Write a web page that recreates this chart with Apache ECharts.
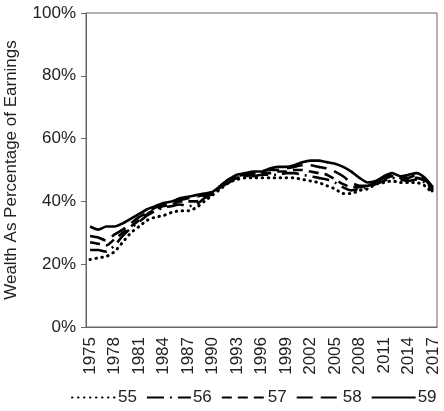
<!DOCTYPE html>
<html>
<head>
<meta charset="utf-8">
<script src="https://cdn.jsdelivr.net/npm/echarts@6/dist/echarts.min.js"></script>
<style>
  html, body { margin: 0; padding: 0; background: #fff; }
  #chart { width: 444px; height: 411px; }
</style>
</head>
<body>
<div id="chart"></div>
<script>
// Wealth as a share of earnings by age cohort, 1975-2017
const years = [];
for (let y = 1975; y <= 2017; y++) years.push(String(y));

const seriesNames = ['55', '56', '57', '58', '59'];

const age55 = [21.5, 22, 22.5, 24, 27, 30, 32, 34, 35, 35.5, 36.5, 37, 37, 38, 40, 42, 44, 46, 47, 47.5,
  47.5, 47.5, 47.5, 47.5, 47.5, 47.5, 47, 46.5, 46, 45, 44, 42.5, 42.5, 43.5, 44, 45.5, 46, 46.5, 46, 46,
  46, 45, 42.5];
const age56 = [24.5, 24.5, 24, 26, 29, 31.5, 33.5, 35.5, 37, 38, 38.5, 39, 38.5, 39, 41, 42.5, 44.5, 46, 47.5, 48,
  48, 48.5, 48.5, 48.5, 49, 49, 48.5, 48, 47.5, 47, 46, 44.5, 43.5, 44, 44.5, 45.5, 46.5, 47.5, 47, 46.5,
  47, 46, 43];
const age57 = [27, 26.5, 26, 28, 30, 32, 34, 36, 37.5, 38.5, 39, 40, 40, 40, 41.5, 42.5, 44.5, 46.5, 47.5, 48,
  48.5, 49, 49, 49.5, 49.5, 50, 50, 49.5, 49, 48.5, 47, 45.5, 44.5, 44.5, 45, 46, 47, 48, 47.5, 47,
  47.5, 46.5, 43.5];
const age58 = [29, 28.5, 27.5, 29.5, 31, 33, 35, 36.5, 38, 39, 39.5, 40.5, 41, 41.5, 42, 43, 45, 47, 48, 48.5,
  49, 49.5, 50, 50, 50.5, 51, 51.5, 51.5, 51, 50.5, 49.5, 48, 46, 45, 45, 46, 47.5, 48.5, 48, 47.5,
  48.5, 47, 44];
const age59 = [32, 31, 32, 32, 33, 34.5, 36, 37.5, 38.5, 39.5, 40, 41, 41.5, 42, 42.5, 43, 45, 47, 48.5, 49,
  49.5, 49.5, 50.5, 51, 51, 51.5, 52.5, 53, 53, 52.5, 52, 51, 49.5, 47.5, 46, 46.5, 48, 49, 48, 48.5,
  49, 47.5, 44.5];

const yTicks = [0, 20, 40, 60, 80, 100];

const values = [age55, age56, age57, age58, age59];
const dashes = [
  { type: [0.5, 5.5], cap: 'round', width: 3 },
  { type: [17, 6, 2, 6], cap: 'butt', width: 2.6 },
  { type: [10, 6], cap: 'butt', width: 2.6 },
  { type: [16, 8], cap: 'butt', width: 2.6 },
  { type: 'solid', cap: 'butt', width: 2.6 }
];

const font = 'Liberation Sans, Arial, sans-serif';
const fs = 17;
const chart = echarts.init(document.getElementById('chart'));

chart.setOption({
  animation: false,
  backgroundColor: '#fff',
  grid: {
    left: 86, right: 7, top: 13, bottom: 84,
    outerBoundsMode: 'none',
    containLabel: false,
    show: true, borderColor: '#666', borderWidth: 1, backgroundColor: 'transparent'
  },
  legend: {
    bottom: 0,
    left: 66,
    itemWidth: 44,
    itemHeight: 14,
    itemGap: 9,
    itemStyle: { opacity: 0 },
    textStyle: { fontFamily: font, fontSize: fs, color: '#222', padding: [0, 0, 0, -3] },
    data: seriesNames
  },
  xAxis: {
    type: 'category',
    data: years,
    boundaryGap: true,
    axisLine: { lineStyle: { color: '#666', width: 1 } },
    axisTick: { interval: 0, length: 4, lineStyle: { color: '#666' } },
    axisLabel: {
      interval: 2, rotate: 90, margin: 10,
      fontFamily: font, fontSize: fs, color: '#222'
    },
    splitLine: { show: false }
  },
  yAxis: {
    type: 'value',
    min: yTicks[0], max: yTicks[yTicks.length - 1], interval: 20,
    name: 'Wealth As Percentage of Earnings',
    nameLocation: 'middle',
    nameGap: 66,
    nameTextStyle: { fontFamily: font, fontSize: fs, color: '#222' },
    axisLine: { show: true, lineStyle: { color: '#666', width: 1 } },
    axisTick: { show: true, length: 5, lineStyle: { color: '#666' } },
    axisLabel: { formatter: '{value}%', fontFamily: font, fontSize: fs, color: '#222', margin: 10 },
    splitLine: { show: false }
  },
  series: values.map((v, i) => ({
    name: seriesNames[i],
    type: 'line',
    data: v,
    symbol: 'none',
    smooth: 0.2,
    color: '#000',
    lineStyle: Object.assign({ color: '#000', join: 'round' }, dashes[i])
  }))
});
</script>
</body>
</html>
